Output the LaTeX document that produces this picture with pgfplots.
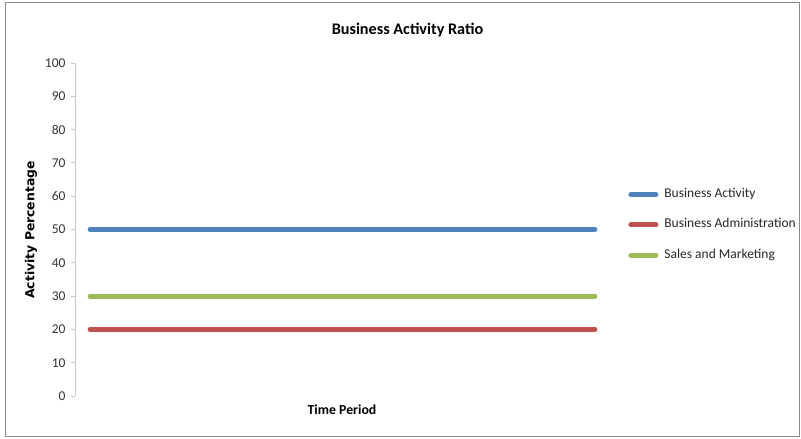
\documentclass[border=0pt]{standalone}
\usepackage{pgfplots}
\pgfplotsset{compat=1.18}
\usepackage{fontspec}
\setmainfont{Carlito}
\newfontfamily\dejavu{DejaVu Sans}
\definecolor{cblue}{RGB}{79,129,189}
\definecolor{cred}{RGB}{192,80,77}
\definecolor{cgreen}{RGB}{155,187,89}
\definecolor{axgray}{RGB}{200,200,200}
\begin{document}
\begin{tikzpicture}[x=1pt,y=1pt]
\useasboundingbox (0,0) rectangle (801,439);
\draw[line width=1pt, color=black!45] (5,2.5) rectangle (799,436);
\begin{axis}[
  at={(75pt,43pt)}, anchor=south west,
  scale only axis, width=535pt, height=333pt,
  xmin=-0.03, xmax=1.03, ymin=0, ymax=100,
  axis x line=none, axis y line=left,
  axis line style={-, axgray, line width=0.8pt},
  ytick={0,10,...,100},
  y tick style={axgray, line width=0.8pt},
  tick align=outside, major tick length=4pt,
  /pgf/number format/assume math mode=true,
  yticklabel style={font=\fontsize{13.5}{15}\selectfont, text=black!80, xshift=-2pt},
  legend style={at={(1.034,0.630)}, anchor=north west, draw=none, fill=none,
    font=\fontsize{13.5}{16}\selectfont, text=black!85,
    row sep=14.5pt, inner sep=0pt,
    nodes={inner sep=2pt, text height=9pt, text depth=3pt}},
  legend cell align=left,
  legend image code/.code={\draw[#1, line cap=round] (2.5pt,0pt) -- (27.5pt,0pt);},
  /tikz/every odd column/.append style={column sep=4pt},
  clip=false,
]
\addplot[cblue, line width=5pt, line cap=round] coordinates {(0,50) (1,50)};
\addlegendentry{Business Activity}
\addplot[cred, line width=5pt, line cap=round] coordinates {(0,20) (1,20)};
\addlegendentry{Business Administration}
\addplot[cgreen, line width=5pt, line cap=round] coordinates {(0,30) (1,30)};
\addlegendentry{Sales and Marketing}
\end{axis}
\node[font=\fontsize{16.2}{19}\selectfont\bfseries] at (407.5,409) {Business Activity Ratio};
\node[font=\fontsize{13.8}{16}\selectfont\bfseries] at (342,29) {Time Period};
\node[font=\dejavu\fontsize{12.4}{14}\selectfont\bfseries, rotate=90] at (31,209) {Activity Percentage};
\end{tikzpicture}
\end{document}
